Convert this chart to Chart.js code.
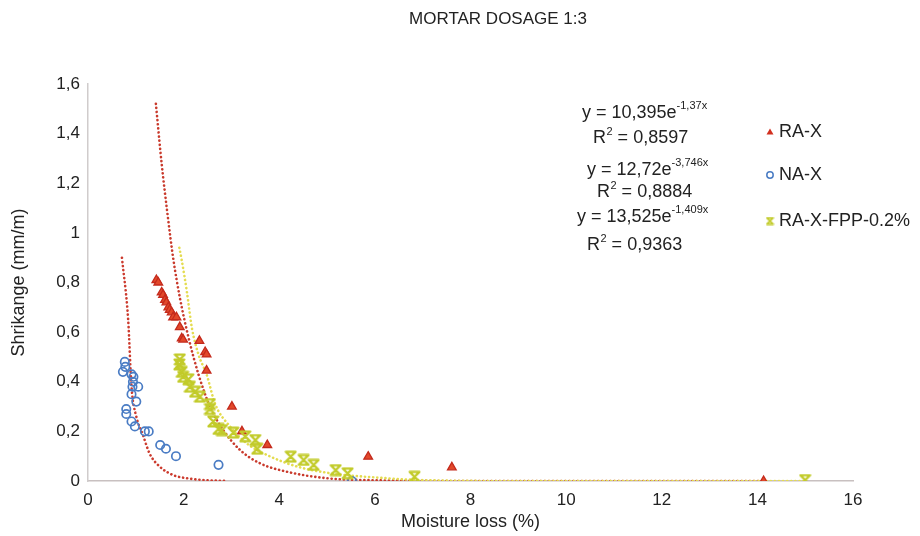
<!DOCTYPE html>
<html>
<head>
<meta charset="utf-8">
<script src="https://cdn.jsdelivr.net/npm/chart.js@4/dist/chart.umd.min.js"></script>
<style>
  html, body { margin: 0; padding: 0; background: #fff; }
  #wrap { width: 920px; height: 536px; }
</style>
</head>
<body>
<div id="wrap"><canvas id="chart" width="920" height="536"></canvas></div>
<script>
// ---- data ----
const seriesNames = ['RA-X', 'NA-X', 'RA-X-FPP-0.2%'];

const raX = [1.43, 1.47, 1.54, 1.57, 1.61, 1.64, 1.68, 1.71, 1.75, 1.78, 1.85, 1.92, 1.96, 1.99, 2.33, 2.45, 2.48, 2.48, 3.01, 3.22, 3.75, 5.86, 7.61, 14.13];
const raY = [0.81, 0.80, 0.76, 0.75, 0.73, 0.72, 0.70, 0.69, 0.68, 0.66, 0.66, 0.62, 0.575, 0.57, 0.565, 0.52, 0.51, 0.445, 0.30, 0.20, 0.145, 0.098, 0.055, 0.0];

const naX = [0.77, 0.78, 0.73, 0.91, 0.95, 0.94, 0.93, 1.05, 0.91, 1.01, 0.80, 0.80, 0.91, 0.98, 1.19, 1.27, 1.51, 1.63, 1.84, 2.73, 5.52];
const naY = [0.48, 0.46, 0.44, 0.43, 0.42, 0.40, 0.38, 0.38, 0.35, 0.32, 0.29, 0.27, 0.24, 0.22, 0.20, 0.20, 0.145, 0.13, 0.10, 0.065, 0.0];

const fppX = [1.92, 1.91, 1.96, 1.99, 2.10, 2.13, 2.24, 2.34, 2.55, 2.55, 2.62, 2.73, 2.80, 3.04, 3.29, 3.50, 3.54, 4.24, 4.51, 4.72, 5.18, 5.43, 6.83, 15.0];
const fppY = [0.49, 0.47, 0.44, 0.42, 0.41, 0.38, 0.36, 0.34, 0.31, 0.29, 0.24, 0.21, 0.205, 0.195, 0.18, 0.165, 0.13, 0.098, 0.085, 0.065, 0.044, 0.031, 0.017, 0.004];

// trend curves (dotted)
const raTrendX = [1.42, 1.54, 1.66, 1.78, 1.92, 2.10, 2.31, 2.55, 2.83, 3.18, 3.60, 4.17, 5.0, 6.0, 8.0, 14.13];
const raTrendY = [1.52, 1.28, 1.08, 0.90, 0.74, 0.58, 0.43, 0.30, 0.205, 0.125, 0.071, 0.037, 0.011, 0.003, 0.0, 0.0];

const naTrendX = [0.71, 0.84, 0.91, 1.01, 1.15, 1.29, 1.50, 1.78, 2.07, 2.5, 2.9];
const naTrendY = [0.90, 0.65, 0.38, 0.26, 0.185, 0.11, 0.058, 0.024, 0.011, 0.003, 0.0];

const fppTrendX = [1.91, 1.96, 2.07, 2.17, 2.31, 2.48, 2.66, 2.97, 3.33, 3.82, 4.38, 5.08, 6.0, 7.0, 9.0, 15.0];
const fppTrendY = [0.94, 0.89, 0.76, 0.62, 0.51, 0.43, 0.31, 0.22, 0.15, 0.098, 0.058, 0.031, 0.0145, 0.0036, 0.0, 0.0];

const equations = [
  ['y = 10,395e', '-1,37x'],
  ['R', '2', ' = 0,8597'],
  ['y = 12,72e', '-3,746x'],
  ['R', '2', ' = 0,8884'],
  ['y = 13,525e', '-1,409x'],
  ['R', '2', ' = 0,9363']
];

const xTicks = [0, 2, 4, 6, 8, 10, 12, 14, 16];
const yTicks = [0, 0.2, 0.4, 0.6, 0.8, 1, 1.2, 1.4, 1.6];

// ---- helpers ----
function pairs(xs, ys) {
  return xs.map((x, i) => ({ x: x, y: ys[i] }));
}

const RED = '#d2301f';
const BLUE = '#4a7cc4';
const YELLOW = '#c2cb2a';
const FONT = '"Liberation Sans", Arial, sans-serif';

// Excel style "star" marker: a bold X with short caps top and bottom
function makeStar(size, color, lw) {
  const c = document.createElement('canvas');
  c.width = size; c.height = size;
  const g = c.getContext('2d');
  g.strokeStyle = color;
  g.lineWidth = lw;
  g.lineCap = 'round';
  const p = lw / 2 + 0.5, q = size - lw / 2 - 0.5;
  const cap = size * 0.3;
  g.beginPath();
  g.moveTo(p, p); g.lineTo(q, q);
  g.moveTo(q, p); g.lineTo(p, q);
  g.moveTo(size / 2 - cap, p); g.lineTo(size / 2 + cap, p);
  g.moveTo(size / 2 - cap, q); g.lineTo(size / 2 + cap, q);
  g.stroke();
  return c;
}
const starImg = makeStar(13, YELLOW, 2.2);

function drawMarker(ctx, style, x, y) {
  ctx.save();
  if (style === 'triangle') {
    ctx.fillStyle = RED;
    ctx.beginPath();
    ctx.moveTo(x, y - 3.5); ctx.lineTo(x + 3.5, y + 2.5); ctx.lineTo(x - 3.5, y + 2.5);
    ctx.closePath(); ctx.fill();
  } else if (style === 'circle') {
    ctx.strokeStyle = BLUE; ctx.lineWidth = 1.5;
    ctx.beginPath(); ctx.arc(x, y, 3.2, 0, Math.PI * 2); ctx.stroke();
  } else {
    ctx.drawImage(makeStar(9, YELLOW, 1.8), x - 4.5, y - 4.5);
  }
  ctx.restore();
}

// ---- texts drawn on top: title, equations, legend ----
const annotations = {
  id: 'annotations',
  afterDraw(chart) {
    const ctx = chart.ctx;
    ctx.save();
    ctx.fillStyle = '#222';
    ctx.textBaseline = 'middle';

    ctx.font = '17px ' + FONT;
    ctx.textAlign = 'center';
    ctx.fillText('MORTAR DOSAGE 1:3', 498, 19);

    // equations
    ctx.textAlign = 'left';
    const eqLeft = [582, 593, 587, 597, 577, 587];
    const eqY = [113, 138, 170, 192, 217, 245];
    equations.forEach((parts, i) => {
      let x = eqLeft[i];
      const y = eqY[i];
      if (parts.length === 2) {
        ctx.font = '18px ' + FONT;
        ctx.fillText(parts[0], x, y);
        x += ctx.measureText(parts[0]).width;
        ctx.font = '11px ' + FONT;
        ctx.fillText(parts[1], x, y - 7);
      } else {
        ctx.font = '18px ' + FONT;
        ctx.fillText(parts[0], x, y);
        x += ctx.measureText(parts[0]).width;
        ctx.font = '11px ' + FONT;
        ctx.fillText(parts[1], x + 0.5, y - 6);
        x += ctx.measureText(parts[1]).width + 0.5;
        ctx.font = '18px ' + FONT;
        ctx.fillText(parts[2], x, y);
      }
    });

    // legend
    const legY = [132, 175, 221];
    const legStyle = ['triangle', 'circle', 'star'];
    ctx.font = '18px ' + FONT;
    seriesNames.forEach((name, i) => {
      drawMarker(ctx, legStyle[i], 770, legY[i]);
      ctx.fillStyle = '#222';
      ctx.fillText(name, 779, legY[i]);
    });
    ctx.restore();
  }
};

const trendStyle = (color) => ({
  type: 'line',
  showLine: true,
  borderColor: color,
  borderWidth: 2.6,
  borderDash: [0.1, 4],
  borderCapStyle: 'round',
  pointRadius: 0,
  fill: false,
  tension: 0.4,
  cubicInterpolationMode: 'monotone'
});

new Chart(document.getElementById('chart'), {
  type: 'scatter',
  data: {
    datasets: [
      Object.assign({ label: 'NA-X trend', data: pairs(naTrendX, naTrendY), order: 5 }, trendStyle('#cc3b2e')),
      Object.assign({ label: 'RA-X trend', data: pairs(raTrendX, raTrendY), order: 4 }, trendStyle('#c93a2c')),
      Object.assign({ label: 'RA-X-FPP trend', data: pairs(fppTrendX, fppTrendY), order: 3 }, trendStyle('#e4dc50')),
      {
        label: seriesNames[1],
        data: pairs(naX, naY),
        pointStyle: 'circle',
        pointRadius: 4.2,
        borderColor: BLUE,
        backgroundColor: 'rgba(255,255,255,0)',
        borderWidth: 1.7,
        order: 2
      },
      {
        label: seriesNames[0],
        data: pairs(raX, raY),
        pointStyle: 'triangle',
        pointRadius: 5,
        borderColor: '#c42a1c',
        backgroundColor: '#e2482a',
        borderWidth: 1.3,
        order: 1
      },
      {
        label: seriesNames[2],
        data: pairs(fppX, fppY),
        pointStyle: starImg,
        order: 0
      }
    ]
  },
  options: {
    responsive: false,
    animation: false,
    layout: { padding: { top: 84, right: 67, bottom: 0, left: 0 } },
    plugins: {
      legend: { display: false },
      title: { display: false },
      tooltip: { enabled: false }
    },
    scales: {
      x: {
        type: 'linear',
        min: 0,
        max: 16,
        afterBuildTicks: (scale) => { scale.ticks = xTicks.map(v => ({ value: v })); },
        afterFit: (scale) => { scale.height = 55; },
        grid: { display: false, drawTicks: false },
        border: { color: '#c8c0c0', width: 1.5 },
        ticks: { color: '#222', font: { family: FONT, size: 17 }, padding: 9 },
        title: {
          display: true,
          text: 'Moisture loss (%)',
          color: '#222',
          font: { family: FONT, size: 18 },
          padding: { top: 0, bottom: 3 }
        }
      },
      y: {
        type: 'linear',
        min: 0,
        max: 1.6,
        afterBuildTicks: (scale) => { scale.ticks = yTicks.map(v => ({ value: v })); },
        afterFit: (scale) => { scale.width = 88; },
        grid: { display: false, drawTicks: false },
        border: { color: '#d0cccc', width: 1.5 },
        ticks: {
          color: '#222',
          font: { family: FONT, size: 17 },
          padding: 8,
          callback: (v) => String(Math.round(v * 10) / 10).replace('.', ',')
        },
        title: {
          display: true,
          text: 'Shrikange (mm/m)',
          color: '#222',
          font: { family: FONT, size: 18 },
          padding: { top: 8, bottom: 0 }
        }
      }
    }
  },
  plugins: [annotations]
});
</script>
</body>
</html>
